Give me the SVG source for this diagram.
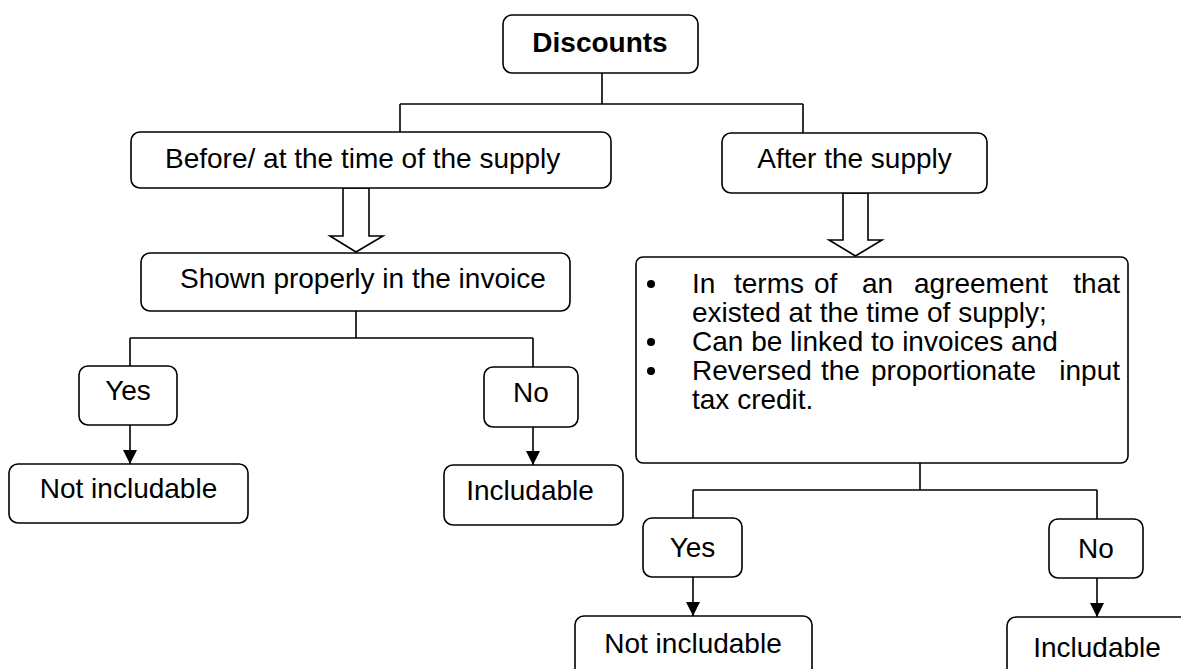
<svg xmlns="http://www.w3.org/2000/svg" width="1181" height="669" viewBox="0 0 1181 669">
<style>
  .box { fill: #ffffff; stroke: #000000; stroke-width: 1.6; }
  .t { font-family: "Liberation Sans", Arial, sans-serif; font-size: 28px; fill: #000000; }
  .c { text-anchor: middle; }
  .b { font-weight: bold; }
  .ln { fill: none; stroke: #000000; stroke-width: 1.6; }
  .hollow { fill: #ffffff; stroke: #000000; stroke-width: 1.6; stroke-linejoin: miter; }
</style>
<defs>
  <marker id="ah" markerWidth="14" markerHeight="14" refX="14" refY="7" orient="auto" markerUnits="userSpaceOnUse">
    <path d="M0,0 L14,7 L0,14 z" fill="#000000"/>
  </marker>
</defs>
<rect width="1181" height="669" fill="#ffffff"/>

<g id="connectors">
  <path class="ln" d="M602,73 V104 M400,104 H803 M400,104 V132 M803,104 V133"/>
  <path class="hollow" d="M343,188 V236 H330 L356,252 L383,236 H369 V188 Z"/>
  <path class="hollow" d="M843,193 V240 H829 L855.5,256 L882,240 H868 V193 Z"/>
  <path class="ln" d="M356,311 V338 M130,338 H533 M130,338 V366 M533,338 V367"/>
  <path class="ln" d="M130,425 V464" marker-end="url(#ah)"/>
  <path class="ln" d="M533,427 V465" marker-end="url(#ah)"/>
  <path class="ln" d="M920,463 V490 M693,490 H1097 M693,490 V518 M1097,490 V519"/>
  <path class="ln" d="M693,577 V616" marker-end="url(#ah)"/>
  <path class="ln" d="M1097,578 V617" marker-end="url(#ah)"/>
</g>

<g id="discounts">
  <rect class="box" x="503" y="15" width="195" height="58" rx="9"/>
  <text class="t b c" x="600" y="52">Discounts</text>
</g>

<g id="before">
  <rect class="box" x="131" y="132" width="480" height="56" rx="9"/>
  <text class="t" x="165" y="168">Before/ at the time of the supply</text>
</g>

<g id="after">
  <rect class="box" x="722" y="133" width="265" height="60" rx="9"/>
  <text class="t c" x="854.5" y="168">After the supply</text>
</g>

<g id="shown">
  <rect class="box" x="141" y="253" width="429" height="58" rx="9"/>
  <text class="t" x="180" y="288">Shown properly in the invoice</text>
</g>

<g id="conditions">
  <rect class="box" x="636" y="257" width="492" height="206" rx="7"/>
  <circle cx="651" cy="284" r="4"/>
  <circle cx="651" cy="342" r="4"/>
  <circle cx="651" cy="371" r="4"/>
  <text class="t" y="293"><tspan x="692">In</tspan><tspan x="734">terms</tspan><tspan x="814">of</tspan><tspan x="862">an</tspan><tspan x="914">agreement</tspan></text>
  <text class="t" x="1120" y="293" text-anchor="end">that</text>
  <text class="t" x="692" y="322">existed at the time of supply;</text>
  <text class="t" x="692" y="351">Can be linked to invoices and</text>
  <text class="t" y="380"><tspan x="692">Reversed</tspan><tspan x="821">the</tspan><tspan x="871">proportionate</tspan></text>
  <text class="t" x="1120" y="380" text-anchor="end">input</text>
  <text class="t" x="692" y="409">tax credit.</text>
</g>

<g id="yes-left">
  <rect class="box" x="79" y="366" width="98" height="59" rx="9"/>
  <text class="t c" x="128" y="400">Yes</text>
</g>

<g id="no-left">
  <rect class="box" x="484" y="367" width="94" height="60" rx="9"/>
  <text class="t c" x="531" y="402">No</text>
</g>

<g id="not-includable-left">
  <rect class="box" x="9" y="464" width="239" height="59" rx="9"/>
  <text class="t c" x="128.5" y="498">Not includable</text>
</g>

<g id="includable-left">
  <rect class="box" x="444" y="465" width="179" height="60" rx="9"/>
  <text class="t c" x="530" y="500">Includable</text>
</g>

<g id="yes-right">
  <rect class="box" x="643" y="518" width="99" height="59" rx="9"/>
  <text class="t c" x="692.5" y="557">Yes</text>
</g>

<g id="no-right">
  <rect class="box" x="1049" y="519" width="94" height="59" rx="9"/>
  <text class="t c" x="1096" y="558">No</text>
</g>

<g id="not-includable-right">
  <rect class="box" x="575" y="616" width="237" height="70" rx="9"/>
  <text class="t c" x="693" y="653">Not includable</text>
</g>

<g id="includable-right">
  <rect class="box" x="1007" y="617" width="190" height="70" rx="9"/>
  <text class="t c" x="1097" y="657">Includable</text>
</g>
</svg>
